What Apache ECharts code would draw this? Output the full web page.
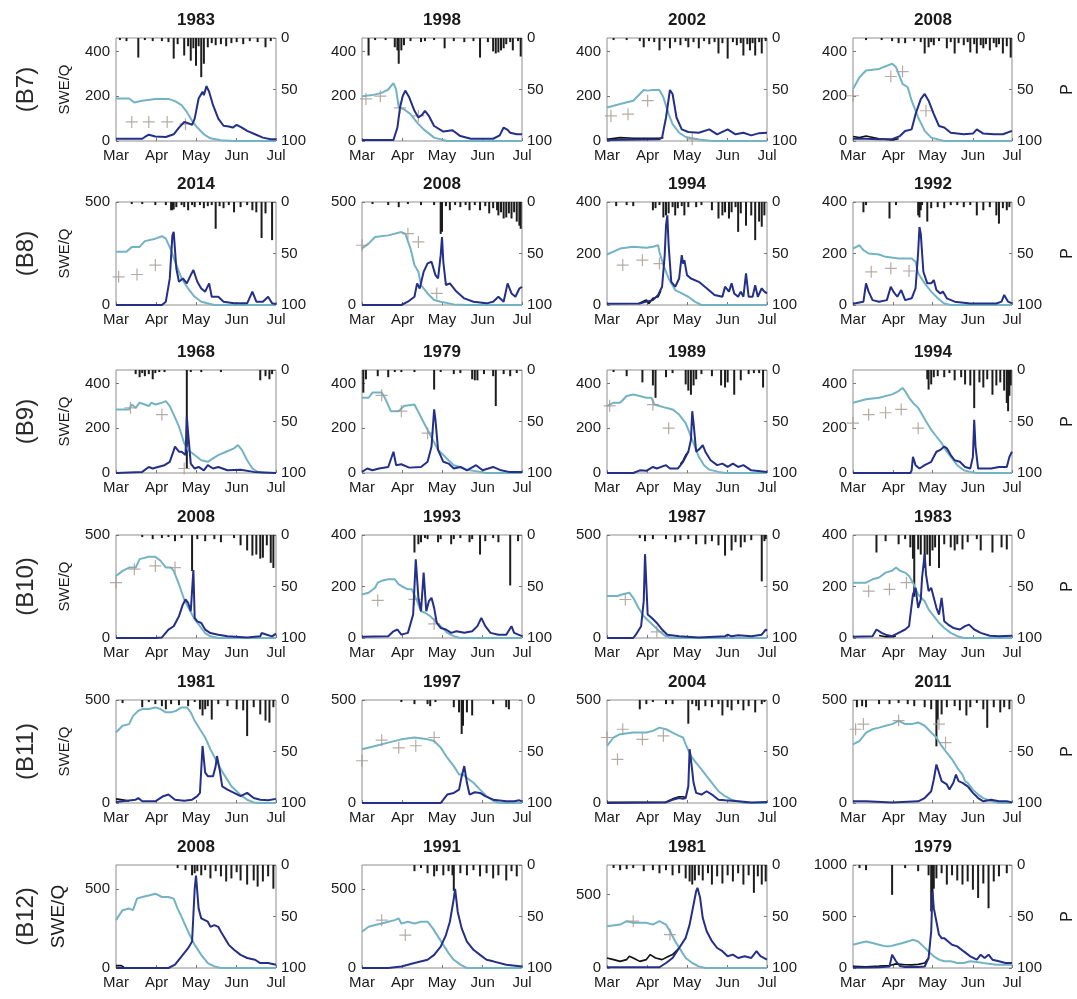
<!DOCTYPE html>
<html>
<head>
<meta charset="utf-8">
<script src="https://cdn.jsdelivr.net/npm/echarts@6/dist/echarts.min.js"></script>
<style>
  html, body { margin: 0; padding: 0; background: #fff; }
  #chart { width: 1077px; height: 999px; }
</style>
</head>
<body>
<div id="chart"></div>
<script>
// Season axis: day counted from 1 March; ticks at the first day of each month
const monthDays = [0, 31, 61, 92, 122];
const monthNames = ['Mar', 'Apr', 'May', 'Jun', 'Jul'];
const rowNames = ['(B7)', '(B8)', '(B9)', '(B10)', '(B11)', '(B12)'];
const panelYears = [
  ['1983', '1998', '2002', '2008'],
  ['2014', '2008', '1994', '1992'],
  ['1968', '1979', '1989', '1994'],
  ['2008', '1993', '1987', '1983'],
  ['1981', '1997', '2004', '2011'],
  ['2008', '1991', '1981', '1979']
];
// SWE/Q axis upper limits and tick labels per panel
const leftMax = [
  [460, 460, 460, 460],
  [500, 500, 400, 400],
  [460, 460, 460, 460],
  [500, 400, 500, 400],
  [500, 500, 500, 500],
  [650, 650, 700, 1000]
];
const leftTicks = [
  [[0, 200, 400], [0, 200, 400], [0, 200, 400], [0, 200, 400]],
  [[0, 500], [0, 500], [0, 200, 400], [0, 200, 400]],
  [[0, 200, 400], [0, 200, 400], [0, 200, 400], [0, 200, 400]],
  [[0, 500], [0, 200, 400], [0, 500], [0, 200, 400]],
  [[0, 500], [0, 500], [0, 500], [0, 500]],
  [[0, 500], [0, 500], [0, 500], [0, 500, 1000]]
];
const pTicks = [0, 50, 100];

// ---- B7 ----
const b7_1983_swe = [[0,190],[10,190],[14,172],[20,180],[30,188],[40,188],[45,178],[50,160],[54,130],[58,90],[62,60],[67,30],[72,12],[80,3],[90,0],[122,0]];
const b7_1983_q = [[0,10],[20,10],[22,18],[25,28],[30,20],[38,18],[44,30],[48,60],[52,85],[55,80],[58,72],[60,100],[63,190],[66,220],[67,205],[69,245],[71,220],[74,160],[78,100],[82,68],[86,65],[89,60],[92,72],[96,60],[100,45],[106,30],[112,15],[118,8],[122,8]];
const b7_1983_sim = [];
const b7_1983_obs = [[12,85],[25,85],[39,85],[53,75]];
const b7_1983_p = [[3,2],[8,3],[17,19],[22,2],[28,3],[35,3],[40,4],[44,20],[47,6],[52,17],[55,8],[57,22],[59,10],[61,27],[63,8],[65,38],[67,25],[70,9],[73,5],[76,7],[80,6],[84,8],[88,5],[92,4],[97,6],[102,3],[108,4],[114,9],[118,3]];

const b7_1998_swe = [[0,200],[8,205],[15,215],[20,230],[24,258],[26,230],[28,150],[32,142],[37,120],[42,82],[47,52],[55,15],[65,0],[122,0]];
const b7_1998_q = [[0,5],[24,5],[27,60],[29,150],[31,200],[33,225],[36,195],[40,135],[43,105],[46,118],[48,135],[51,112],[55,67],[62,42],[69,48],[75,22],[83,10],[100,10],[105,25],[108,60],[111,50],[113,37],[118,30],[122,30]];
const b7_1998_sim = [];
const b7_1998_obs = [[3,188],[14,200],[29,148],[43,112]];
const b7_1998_p = [[5,17],[10,2],[18,2],[25,9],[27,12],[28,25],[30,12],[32,7],[37,3],[45,4],[48,3],[55,2],[63,10],[70,3],[78,4],[85,3],[90,19],[96,4],[100,13],[102,15],[104,14],[106,12],[108,10],[110,6],[113,4],[115,12],[119,3],[121,18]];

const b7_2002_swe = [[0,150],[10,165],[20,180],[28,228],[31,225],[35,228],[40,228],[43,195],[47,120],[50,75],[55,37],[60,18],[70,7],[80,0],[122,0]];
const b7_2002_q = [[0,5],[40,8],[42,15],[45,105],[48,228],[50,210],[53,105],[57,52],[62,40],[70,37],[78,52],[84,30],[92,52],[98,30],[104,37],[110,25],[116,35],[122,37]];
const b7_2002_sim = [[0,8],[10,15],[20,12],[30,12],[40,12],[43,15]];
const b7_2002_obs = [[3,112],[16,120],[31,180],[65,8]];
const b7_2002_p = [[5,2],[15,2],[25,3],[28,9],[32,3],[36,4],[40,12],[44,3],[48,10],[52,4],[56,7],[60,3],[62,9],[66,4],[70,10],[74,3],[78,6],[82,4],[85,15],[88,5],[92,20],[96,4],[99,7],[102,5],[104,17],[107,6],[109,12],[111,5],[113,17],[116,4],[118,15],[121,3]];

const b7_2008_swe = [[0,232],[5,285],[10,315],[20,322],[30,345],[33,330],[38,255],[42,240],[45,180],[50,105],[55,45],[60,15],[70,0],[122,0]];
const b7_2008_q = [[0,10],[10,10],[20,8],[30,8],[36,22],[40,45],[45,52],[48,120],[52,187],[55,210],[58,180],[62,120],[66,67],[70,60],[75,37],[85,30],[92,33],[95,52],[100,33],[108,30],[115,30],[122,45]];
const b7_2008_sim = [[0,20],[5,15],[10,22],[20,10],[30,5],[35,10]];
const b7_2008_obs = [[0,202],[29,288],[38,310],[56,135]];
const b7_2008_p = [[10,2],[22,2],[30,3],[35,5],[40,5],[47,3],[52,4],[55,15],[58,9],[60,4],[62,7],[66,3],[72,10],[75,4],[78,15],[81,5],[85,7],[88,4],[90,14],[93,6],[95,15],[98,7],[100,10],[102,6],[105,12],[108,5],[110,9],[112,6],[115,15],[118,8],[121,19]];

// ---- B8 ----
const b8_2014_swe = [[0,258],[8,258],[12,282],[18,282],[22,310],[30,322],[35,334],[38,322],[42,266],[45,210],[50,129],[55,80],[60,40],[65,16],[75,0],[122,0]];
const b8_2014_q = [[0,0],[35,0],[38,16],[41,129],[43,338],[44,355],[46,177],[48,113],[51,129],[54,105],[57,145],[59,170],[62,113],[65,80],[68,65],[71,105],[73,40],[78,40],[82,16],[90,8],[100,8],[104,65],[107,16],[112,16],[116,40],[119,8],[122,5]];
const b8_2014_sim = [];
const b8_2014_obs = [[2,137],[16,148],[30,194]];
const b8_2014_p = [[12,2],[20,2],[30,3],[38,3],[42,8],[43,8],[44,7],[46,5],[50,3],[52,5],[55,8],[58,3],[60,5],[64,3],[67,6],[70,4],[73,3],[76,26],[79,4],[82,6],[86,3],[90,10],[95,5],[100,3],[104,8],[107,10],[111,35],[114,11],[119,37]];

const b8_2008_swe = [[0,274],[5,298],[10,330],[20,338],[30,354],[33,346],[37,274],[40,194],[43,161],[45,97],[50,56],[55,24],[60,16],[70,3],[80,0],[122,0]];
const b8_2008_q = [[0,0],[30,0],[35,16],[40,40],[42,105],[44,80],[47,161],[50,202],[53,210],[56,145],[58,129],[60,242],[61,330],[62,210],[64,97],[67,105],[72,65],[78,32],[85,16],[95,8],[100,16],[104,40],[108,16],[111,105],[114,56],[117,40],[120,80],[122,88]];
const b8_2008_sim = [];
const b8_2008_obs = [[0,290],[35,346],[43,306],[57,56]];
const b8_2008_p = [[8,2],[20,3],[28,5],[35,2],[45,3],[55,3],[60,31],[61,29],[64,4],[67,8],[71,3],[75,5],[79,3],[82,8],[86,3],[90,8],[94,4],[97,11],[100,6],[103,8],[104,13],[106,10],[108,16],[110,15],[112,11],[114,16],[116,10],[118,19],[120,23],[121,26]];

const b8_1994_swe = [[0,196],[10,219],[20,226],[30,222],[35,226],[39,232],[40,206],[43,155],[47,103],[52,58],[57,45],[62,32],[67,13],[72,0],[122,0]];
const b8_1994_q = [[0,5],[25,6],[30,13],[35,19],[39,39],[42,71],[44,194],[45,310],[46,348],[47,232],[49,90],[52,71],[55,103],[57,194],[58,161],[59,174],[61,116],[64,103],[70,90],[76,65],[82,39],[88,32],[90,71],[93,52],[95,84],[97,45],[100,32],[102,52],[104,32],[106,123],[108,32],[111,32],[113,77],[115,32],[118,65],[120,52],[122,45]];
const b8_1994_sim = [[24,5],[27,13],[30,19],[32,6],[35,26],[39,32],[41,55]];
const b8_1994_obs = [[12,155],[27,174],[40,161]];
const b8_1994_p = [[7,4],[15,3],[20,4],[35,8],[37,6],[40,3],[43,15],[45,13],[47,11],[50,5],[52,13],[54,6],[57,4],[59,13],[62,5],[68,5],[72,3],[80,8],[85,16],[88,13],[90,10],[93,16],[95,10],[98,5],[100,29],[102,11],[106,23],[110,13],[113,37],[116,19],[118,24],[120,13]];

const b8_1992_swe = [[0,219],[5,232],[8,213],[12,200],[20,196],[25,187],[35,181],[45,181],[48,168],[50,123],[55,84],[60,52],[65,26],[70,6],[75,0],[122,0]];
const b8_1992_q = [[0,5],[8,13],[10,84],[12,52],[15,19],[20,13],[26,19],[29,71],[31,52],[34,32],[37,58],[40,19],[45,26],[48,65],[50,206],[51,303],[52,277],[54,129],[57,84],[60,84],[62,97],[64,58],[67,45],[69,52],[72,26],[78,13],[90,6],[100,6],[110,6],[114,13],[116,39],[119,13],[122,6]];
const b8_1992_sim = [];
const b8_1992_obs = [[14,129],[29,142],[43,132]];
const b8_1992_p = [[8,10],[10,3],[28,16],[33,3],[50,13],[51,15],[52,8],[53,3],[57,19],[60,6],[65,5],[70,6],[75,3],[80,3],[85,5],[90,3],[95,13],[100,8],[105,5],[110,13],[112,21],[115,6],[118,8],[120,5]];

// ---- B9 ----
const b9_1968_swe = [[0,284],[10,284],[12,306],[15,291],[18,314],[22,306],[25,299],[27,314],[30,306],[35,314],[38,321],[41,299],[44,261],[48,208],[52,133],[55,103],[60,80],[65,57],[70,50],[74,65],[78,80],[84,95],[90,110],[93,125],[96,103],[100,57],[104,20],[108,5],[112,0],[122,0]];
const b9_1968_q = [[0,0],[20,5],[25,27],[28,20],[32,27],[37,35],[41,50],[45,118],[48,95],[50,95],[53,80],[54,253],[55,178],[57,42],[60,20],[63,27],[67,12],[70,35],[74,20],[78,27],[85,12],[95,15],[105,5],[122,0]];
const b9_1968_sim = [];
const b9_1968_obs = [[11,291],[35,261],[52,20]];
const b9_1968_p = [[15,4],[18,7],[20,3],[22,6],[25,4],[28,9],[30,3],[33,2],[37,2],[54,96],[57,2],[65,2],[80,2],[110,10],[114,6],[117,9],[119,4]];

const b9_1979_swe = [[0,336],[5,336],[8,359],[15,359],[18,329],[22,276],[28,276],[32,299],[40,306],[42,284],[46,238],[50,193],[54,148],[58,103],[62,80],[66,57],[70,35],[75,27],[80,15],[90,5],[95,0],[122,0]];
const b9_1979_q = [[0,5],[4,20],[8,12],[13,20],[20,27],[24,95],[26,35],[30,39],[36,24],[45,27],[50,50],[53,118],[55,284],[56,238],[58,103],[62,50],[66,42],[70,20],[75,27],[80,12],[87,35],[92,12],[100,27],[106,12],[112,5],[122,5]];
const b9_1979_sim = [];
const b9_1979_obs = [[15,347],[30,276],[50,178]];
const b9_1979_p = [[1,22],[3,9],[12,6],[20,7],[25,2],[30,2],[40,2],[55,19],[60,2],[70,4],[75,3],[84,9],[86,10],[88,10],[93,4],[100,6],[102,35],[108,4],[113,6],[118,3]];

const b9_1989_swe = [[0,299],[5,314],[10,314],[15,344],[20,351],[25,344],[30,336],[34,336],[36,306],[40,299],[45,291],[50,284],[55,261],[60,223],[64,163],[67,118],[70,72],[74,35],[78,15],[85,5],[90,0],[122,0]];
const b9_1989_q = [[0,0],[20,0],[25,12],[30,10],[35,27],[38,20],[45,35],[48,20],[54,20],[58,50],[62,95],[64,148],[65,276],[66,223],[68,95],[71,110],[73,125],[75,95],[79,57],[84,35],[88,42],[92,27],[96,42],[100,27],[104,35],[110,12],[122,5]];
const b9_1989_sim = [[56,40],[58,55],[60,80],[62,95]];
const b9_1989_obs = [[2,300],[35,305],[47,200]];
const b9_1989_p = [[5,2],[15,6],[27,12],[35,15],[37,27],[45,7],[50,3],[60,14],[62,20],[64,24],[66,15],[68,9],[72,4],[80,6],[87,15],[90,17],[92,12],[97,24],[102,10],[108,4],[112,3],[116,3],[119,17]];

const b9_1994_swe = [[0,314],[10,329],[20,336],[30,351],[35,366],[38,380],[40,366],[43,336],[46,314],[50,291],[53,261],[56,231],[60,193],[64,163],[68,133],[72,95],[76,65],[80,35],[85,12],[90,5],[95,0],[122,0]];
const b9_1994_q = [[0,0],[44,0],[45,12],[46,72],[48,35],[51,20],[55,35],[60,50],[64,95],[67,103],[70,118],[72,110],[75,80],[78,57],[82,50],[86,27],[90,20],[92,72],[93,238],[94,118],[96,20],[100,20],[106,20],[112,27],[118,27],[120,72],[122,95]];
const b9_1994_sim = [];
const b9_1994_obs = [[0,223],[12,261],[25,269],[37,284],[50,200]];
const b9_1994_p = [[57,9],[58,19],[60,14],[62,7],[65,6],[70,7],[74,3],[78,10],[83,7],[86,14],[90,15],[93,37],[97,12],[100,17],[103,9],[107,24],[110,15],[113,12],[116,20],[118,32],[119,40],[120,25],[121,15]];

// ---- B10 ----
const b10_2008_swe = [[0,301],[5,326],[10,342],[15,342],[18,383],[25,394],[30,394],[34,375],[38,342],[42,342],[44,326],[48,261],[52,187],[56,138],[60,90],[64,57],[68,24],[72,8],[78,0],[122,0]];
const b10_2008_q = [[0,0],[30,0],[35,3],[40,41],[44,57],[48,106],[51,163],[53,187],[55,171],[57,130],[58,122],[59,330],[60,98],[62,81],[65,73],[68,41],[72,24],[78,16],[85,8],[100,3],[110,8],[111,24],[115,16],[119,8],[122,21]];
const b10_2008_sim = [];
const b10_2008_obs = [[0,269],[14,334],[30,350],[45,342]];
const b10_2008_p = [[20,2],[28,4],[35,3],[40,2],[45,6],[50,3],[58,35],[62,4],[68,6],[75,4],[80,7],[90,3],[95,10],[100,15],[104,20],[107,19],[110,23],[112,22],[115,10],[118,27],[120,32]];

const b10_1993_swe = [[0,169],[5,176],[10,195],[12,215],[15,222],[20,228],[25,228],[28,208],[30,202],[35,189],[38,189],[42,143],[45,104],[48,98],[52,85],[56,65],[60,46],[65,20],[70,7],[75,0],[122,0]];
const b10_1993_q = [[0,5],[20,7],[24,26],[27,33],[30,13],[35,20],[39,91],[41,306],[43,156],[45,104],[47,254],[49,104],[51,143],[53,156],[55,117],[57,59],[60,39],[64,33],[68,20],[72,26],[78,20],[84,26],[88,46],[91,78],[94,46],[98,20],[104,13],[110,13],[114,46],[116,20],[122,7]];
const b10_1993_sim = [];
const b10_1993_obs = [[12,146],[40,150],[55,55]];
const b10_1993_p = [[40,17],[43,9],[45,7],[48,3],[50,4],[58,7],[60,4],[68,9],[70,4],[75,3],[82,7],[84,4],[90,19],[94,6],[100,3],[104,7],[113,49],[119,6]];

const b10_1987_swe = [[0,204],[8,204],[12,212],[17,220],[20,195],[24,147],[28,106],[32,81],[36,57],[40,33],[45,8],[50,0],[122,0]];
const b10_1987_q = [[0,0],[20,0],[22,16],[26,57],[28,179],[29,407],[30,261],[31,114],[34,98],[38,73],[42,41],[46,16],[55,8],[70,3],[90,8],[92,16],[95,8],[100,13],[110,8],[118,16],[121,41],[122,35]];
const b10_1987_sim = [];
const b10_1987_obs = [[14,187],[38,30]];
const b10_1987_p = [[25,3],[29,6],[35,4],[45,4],[52,7],[56,5],[62,4],[68,9],[75,9],[80,6],[85,10],[90,20],[95,15],[98,7],[102,12],[105,7],[110,5],[118,45],[120,6],[121,4]];

const b10_1983_swe = [[0,215],[10,215],[15,228],[20,235],[25,254],[30,261],[33,274],[36,261],[40,254],[43,241],[46,215],[50,169],[55,143],[58,111],[62,85],[66,59],[70,39],[75,20],[80,7],[85,0],[122,0]];
const b10_1983_q = [[0,5],[15,7],[18,33],[22,20],[25,13],[30,7],[35,20],[40,33],[43,46],[46,169],[48,195],[50,117],[52,150],[53,235],[55,326],[56,248],[58,182],[60,195],[62,156],[64,117],[66,91],[68,156],[70,65],[73,52],[77,39],[82,33],[86,46],[89,52],[93,33],[98,20],[105,9],[112,7],[122,9]];
const b10_1983_sim = [[20,10],[25,5],[30,5],[33,8]];
const b10_1983_obs = [[12,182],[28,189],[41,215]];
const b10_1983_p = [[18,17],[25,6],[35,9],[40,4],[44,12],[46,23],[47,60],[50,14],[52,19],[55,32],[57,19],[59,30],[61,15],[63,12],[66,32],[70,9],[75,12],[78,15],[80,9],[84,14],[88,7],[95,4],[98,15],[107,17],[114,12],[118,14]];

// ---- B11 ----
const b11_1981_swe = [[0,342],[5,375],[10,383],[13,423],[17,448],[20,456],[25,456],[30,464],[34,456],[38,440],[42,440],[46,448],[50,464],[54,464],[57,440],[60,399],[64,358],[68,318],[72,261],[76,212],[80,163],[84,122],[88,81],[92,57],[96,33],[100,16],[105,3],[110,0],[122,0]];
const b11_1981_q = [[0,5],[15,16],[17,24],[20,8],[30,8],[36,33],[40,41],[45,16],[52,11],[58,16],[62,33],[64,49],[66,277],[68,147],[70,130],[74,130],[76,179],[77,228],[79,163],[81,81],[85,65],[90,49],[95,33],[100,49],[105,24],[110,16],[116,13],[122,20]];
const b11_1981_sim = [[0,20],[5,15],[10,10]];
const b11_1981_obs = [];
const b11_1981_p = [[5,3],[20,7],[25,2],[30,4],[35,6],[38,9],[42,4],[48,5],[55,6],[60,2],[64,9],[66,15],[68,9],[70,6],[73,19],[78,4],[85,6],[92,9],[97,10],[100,35],[105,7],[110,14],[114,20],[117,22],[120,7]];

const b11_1997_swe = [[0,261],[10,277],[20,293],[30,309],[40,318],[50,309],[55,301],[60,269],[65,220],[70,179],[74,138],[77,138],[80,122],[85,98],[90,65],[95,33],[100,11],[105,0],[122,0]];
const b11_1997_q = [[0,0],[60,0],[62,16],[65,41],[70,49],[74,65],[76,130],[78,179],[80,98],[82,41],[86,52],[90,49],[94,33],[100,16],[110,8],[116,8],[120,13],[122,8]];
const b11_1997_sim = [];
const b11_1997_obs = [[0,205],[15,305],[28,268],[41,278],[55,318]];
const b11_1997_p = [[30,2],[40,4],[50,4],[52,6],[56,2],[70,7],[74,12],[76,33],[77,25],[80,12],[84,15],[100,4],[110,7],[112,9]];

const b11_2004_swe = [[0,277],[5,318],[10,334],[20,342],[30,342],[35,350],[40,366],[45,358],[50,342],[55,326],[58,318],[60,285],[64,228],[68,195],[72,163],[76,130],[80,98],[85,57],[90,33],[95,16],[100,8],[105,0],[122,0]];
const b11_2004_q = [[0,0],[45,3],[50,16],[55,24],[58,20],[60,24],[62,81],[63,261],[64,212],[66,98],[68,49],[72,41],[76,57],[80,41],[85,16],[90,13],[100,8],[110,3],[122,5]];
const b11_2004_sim = [[0,3],[45,5],[50,20],[55,30],[58,30],[60,25]];
const b11_2004_obs = [[0,318],[8,212],[12,358],[27,309],[43,326]];
const b11_2004_p = [[25,9],[30,4],[35,2],[45,4],[50,4],[62,23],[65,4],[68,6],[70,10],[75,6],[80,7],[85,4],[88,15],[92,7],[95,10],[100,4],[104,10],[108,6],[113,12],[118,4],[120,2]];

const b11_2011_swe = [[0,285],[5,301],[10,342],[15,358],[20,366],[25,375],[30,383],[35,399],[40,383],[45,383],[50,391],[55,375],[60,342],[64,318],[68,277],[72,244],[76,212],[80,171],[84,138],[86,106],[88,98],[92,65],[96,41],[100,24],[105,11],[110,3],[115,0],[122,0]];
const b11_2011_q = [[0,8],[10,8],[30,3],[50,8],[55,24],[60,57],[62,114],[64,187],[66,147],[68,106],[72,90],[74,65],[77,98],[79,138],[81,106],[84,98],[88,81],[92,49],[96,24],[100,8],[106,16],[112,8],[118,8],[122,3]];
const b11_2011_sim = [];
const b11_2011_obs = [[2,358],[8,383],[35,400],[66,383],[71,293]];
const b11_2011_p = [[3,7],[7,6],[10,7],[20,4],[28,4],[35,3],[42,4],[47,6],[55,7],[60,9],[64,45],[65,19],[68,14],[72,7],[78,6],[82,10],[87,15],[90,7],[95,3],[100,9],[103,27],[108,7],[113,12],[116,7],[120,9]];

// ---- B12 ----
const b12_2008_swe = [[0,302],[5,365],[10,375],[13,365],[16,438],[20,448],[25,458],[30,469],[35,448],[40,448],[44,438],[47,375],[50,323],[55,229],[60,146],[65,83],[70,31],[75,10],[80,0],[122,0]];
const b12_2008_q = [[0,0],[40,0],[45,21],[50,73],[55,125],[58,167],[60,500],[61,583],[63,375],[65,313],[70,292],[72,260],[75,271],[78,260],[80,229],[83,188],[86,146],[90,115],[95,83],[100,63],[106,52],[110,31],[116,31],[122,21]];
const b12_2008_sim = [[0,15],[4,15],[6,5]];
const b12_2008_obs = [];
const b12_2008_p = [[47,3],[53,5],[58,10],[60,8],[62,6],[65,10],[68,5],[72,13],[76,6],[80,11],[84,16],[88,13],[92,7],[95,15],[100,19],[105,15],[108,21],[112,16],[116,11],[120,23]];

const b12_1991_swe = [[0,229],[5,260],[10,271],[15,281],[20,292],[25,302],[28,313],[30,281],[35,292],[40,281],[45,292],[50,292],[54,250],[58,198],[62,146],[66,94],[70,52],[75,21],[80,0],[122,0]];
const b12_1991_q = [[0,0],[20,0],[30,10],[35,21],[40,31],[50,52],[55,83],[60,135],[64,208],[67,292],[70,438],[71,500],[73,354],[76,250],[80,167],[85,115],[90,83],[95,52],[100,42],[110,21],[122,10]];
const b12_1991_sim = [];
const b12_1991_obs = [[15,302],[33,208]];
const b12_1991_p = [[40,6],[45,3],[50,8],[55,11],[57,6],[62,10],[66,6],[69,10],[70,25],[75,8],[80,10],[85,5],[90,11],[95,8],[100,13],[104,10],[110,15],[114,6],[118,11]];

const b12_1981_swe = [[0,284],[10,295],[15,318],[20,307],[30,307],[35,295],[40,318],[45,295],[48,250],[52,182],[56,125],[60,68],[65,34],[70,11],[75,0],[122,0]];
const b12_1981_q = [[0,5],[40,5],[45,34],[50,68],[55,136],[60,205],[63,295],[66,432],[68,523],[69,545],[70,534],[71,477],[73,341],[76,250],[80,182],[84,136],[88,114],[92,80],[96,91],[100,68],[105,80],[110,68],[114,114],[117,80],[122,57]];
const b12_1981_sim = [[0,68],[5,57],[10,45],[15,57],[17,80],[20,68],[25,45],[30,57],[33,91],[37,68],[42,57],[47,80],[50,91],[55,136]];
const b12_1981_obs = [[20,318],[48,227]];
const b12_1981_p = [[5,3],[10,5],[15,4],[20,3],[28,6],[35,5],[40,8],[45,5],[50,10],[55,8],[60,13],[63,16],[65,19],[67,15],[70,10],[73,15],[77,8],[80,19],[84,11],[88,18],[92,10],[96,16],[100,8],[104,19],[108,10],[112,27],[115,11],[118,19],[121,16]];

const b12_1979_swe = [[0,226],[5,242],[10,258],[15,242],[20,226],[25,210],[28,210],[33,226],[38,242],[42,258],[46,274],[50,258],[54,210],[58,161],[62,113],[66,81],[70,65],[75,65],[80,48],[85,48],[90,65],[95,58],[100,48],[110,32],[122,32]];
const b12_1979_q = [[0,5],[10,5],[20,8],[28,15],[30,129],[31,145],[33,65],[36,20],[40,10],[50,10],[55,15],[58,97],[60,355],[61,742],[62,581],[64,452],[66,323],[68,290],[70,290],[73,258],[76,226],[80,210],[85,161],[90,113],[95,81],[98,129],[101,97],[104,129],[107,81],[112,65],[117,48],[122,48]];
const b12_1979_sim = [[0,16],[10,12],[20,18],[28,25],[33,40],[40,32],[45,30],[50,35],[55,48],[58,97]];
const b12_1979_obs = [];
const b12_1979_p = [[5,3],[10,5],[30,29],[40,3],[50,6],[58,10],[60,45],[61,32],[62,23],[64,13],[68,8],[72,19],[76,10],[80,15],[84,19],[88,16],[92,24],[96,32],[100,18],[104,42],[108,16],[112,11],[118,8]];

// Panel table, row by row (basin B7..B12), four years each
const panelSeries = [
  [[b7_1983_swe, b7_1983_q, b7_1983_sim, b7_1983_obs, b7_1983_p],
   [b7_1998_swe, b7_1998_q, b7_1998_sim, b7_1998_obs, b7_1998_p],
   [b7_2002_swe, b7_2002_q, b7_2002_sim, b7_2002_obs, b7_2002_p],
   [b7_2008_swe, b7_2008_q, b7_2008_sim, b7_2008_obs, b7_2008_p]],
  [[b8_2014_swe, b8_2014_q, b8_2014_sim, b8_2014_obs, b8_2014_p],
   [b8_2008_swe, b8_2008_q, b8_2008_sim, b8_2008_obs, b8_2008_p],
   [b8_1994_swe, b8_1994_q, b8_1994_sim, b8_1994_obs, b8_1994_p],
   [b8_1992_swe, b8_1992_q, b8_1992_sim, b8_1992_obs, b8_1992_p]],
  [[b9_1968_swe, b9_1968_q, b9_1968_sim, b9_1968_obs, b9_1968_p],
   [b9_1979_swe, b9_1979_q, b9_1979_sim, b9_1979_obs, b9_1979_p],
   [b9_1989_swe, b9_1989_q, b9_1989_sim, b9_1989_obs, b9_1989_p],
   [b9_1994_swe, b9_1994_q, b9_1994_sim, b9_1994_obs, b9_1994_p]],
  [[b10_2008_swe, b10_2008_q, b10_2008_sim, b10_2008_obs, b10_2008_p],
   [b10_1993_swe, b10_1993_q, b10_1993_sim, b10_1993_obs, b10_1993_p],
   [b10_1987_swe, b10_1987_q, b10_1987_sim, b10_1987_obs, b10_1987_p],
   [b10_1983_swe, b10_1983_q, b10_1983_sim, b10_1983_obs, b10_1983_p]],
  [[b11_1981_swe, b11_1981_q, b11_1981_sim, b11_1981_obs, b11_1981_p],
   [b11_1997_swe, b11_1997_q, b11_1997_sim, b11_1997_obs, b11_1997_p],
   [b11_2004_swe, b11_2004_q, b11_2004_sim, b11_2004_obs, b11_2004_p],
   [b11_2011_swe, b11_2011_q, b11_2011_sim, b11_2011_obs, b11_2011_p]],
  [[b12_2008_swe, b12_2008_q, b12_2008_sim, b12_2008_obs, b12_2008_p],
   [b12_1991_swe, b12_1991_q, b12_1991_sim, b12_1991_obs, b12_1991_p],
   [b12_1981_swe, b12_1981_q, b12_1981_sim, b12_1981_obs, b12_1981_p],
   [b12_1979_swe, b12_1979_q, b12_1979_sim, b12_1979_obs, b12_1979_p]]
];

// ---- layout and styling ----
const FONT = '"Liberation Sans", Arial, Helvetica, sans-serif';
const TEXT = '#1a1a1a';
const colLeft = [116, 362, 607, 853];
const rowTop = [38, 202, 370, 535, 700, 865];
const W = 160, H = 103;
const C_SWE = '#74b3c4', C_Q = '#243087', C_SIM = '#111111', C_OBS = '#a2968e', C_P = '#1c1c1c';
const PLUS = 'path://M4.5,0h1v4.5h4.5v1h-4.5v4.5h-1v-4.5h-4.5v-1h4.5z';

const grids = [], xAxes = [], yAxes = [], series = [], graphics = [];

for (let r = 0; r < 6; r++) {
  graphics.push({
    type: 'text', x: 26, y: rowTop[r] + H / 2, rotation: Math.PI / 2,
    style: { text: rowNames[r], font: '24px ' + FONT, fill: '#2a2a2a', align: 'center', verticalAlign: 'middle' }
  });
  for (let c = 0; c < 4; c++) {
    const k = r * 4 + c;
    const [swe, q, sim, obs, p] = panelSeries[r][c];
    grids.push({
      left: colLeft[c], top: rowTop[r], width: W, height: H,
      show: true, borderColor: '#8e8e8e', borderWidth: 1, backgroundColor: '#fff'
    });
    graphics.push({
      type: 'text', x: colLeft[c] + W / 2, y: rowTop[r] - 18,
      style: { text: panelYears[r][c], font: 'bold 17px ' + FONT, fill: TEXT, align: 'center', verticalAlign: 'middle' }
    });
    xAxes.push({
      type: 'value', gridIndex: k, min: 0, max: 122,
      axisLine: { show: false },
      axisTick: { show: true, inside: true, length: 3, customValues: monthDays, lineStyle: { color: '#777' } },
      axisLabel: {
        customValues: monthDays, margin: 7, fontSize: 15, color: TEXT, fontFamily: FONT,
        formatter: v => monthNames[monthDays.indexOf(v)]
      },
      splitLine: { show: false }
    });
    yAxes.push({
      type: 'value', gridIndex: k, position: 'left', min: 0, max: leftMax[r][c],
      axisLine: { show: false },
      axisTick: { show: true, inside: true, length: 3, customValues: leftTicks[r][c], lineStyle: { color: '#777' } },
      axisLabel: {
        customValues: leftTicks[r][c], margin: 6, fontSize: 15, color: TEXT, fontFamily: FONT,
        formatter: v => String(v)
      },
      splitLine: { show: false },
      name: c === 0 ? 'SWE/Q' : '', nameLocation: 'middle', nameRotate: 90, nameGap: r === 5 ? 48 : 44,
      nameTextStyle: { fontSize: r === 5 ? 19 : 15, color: TEXT, fontFamily: FONT }
    });
    yAxes.push({
      type: 'value', gridIndex: k, position: 'right', inverse: true, min: 0, max: 100,
      axisLine: { show: false },
      axisTick: { show: true, inside: true, length: 3, customValues: pTicks, lineStyle: { color: '#777' } },
      axisLabel: {
        customValues: pTicks, margin: 5, fontSize: 15, color: TEXT, fontFamily: FONT,
        formatter: v => String(v)
      },
      splitLine: { show: false },
      name: c === 3 ? 'P' : '', nameLocation: 'middle', nameRotate: 90, nameGap: 48,
      nameTextStyle: { fontSize: 16, color: TEXT, fontFamily: FONT }
    });
    // daily precipitation hanging from the top (inverted axis)
    series.push({
      type: 'bar', xAxisIndex: k, yAxisIndex: 2 * k + 1, data: p,
      barWidth: 2, itemStyle: { color: C_P }, silent: true, z: 2
    });
    // simulated snow water equivalent
    series.push({
      type: 'line', xAxisIndex: k, yAxisIndex: 2 * k, data: swe,
      showSymbol: false, symbol: 'none', lineStyle: { color: C_SWE, width: 2 }, silent: true, z: 3
    });
    // observed snow water equivalent
    series.push({
      type: 'scatter', xAxisIndex: k, yAxisIndex: 2 * k, data: obs,
      symbol: PLUS, symbolSize: 12, itemStyle: { color: C_OBS }, silent: true, z: 4
    });
    // simulated discharge
    series.push({
      type: 'line', xAxisIndex: k, yAxisIndex: 2 * k, data: sim,
      showSymbol: false, symbol: 'none', lineStyle: { color: C_SIM, width: 1.6 }, silent: true, z: 5
    });
    // observed discharge
    series.push({
      type: 'line', xAxisIndex: k, yAxisIndex: 2 * k, data: q,
      showSymbol: false, symbol: 'none', lineStyle: { color: C_Q, width: 2 }, silent: true, z: 6
    });
  }
}

const chart = echarts.init(document.getElementById('chart'), null, { renderer: 'canvas' });
chart.setOption({
  animation: false,
  backgroundColor: '#fff',
  textStyle: { fontFamily: FONT },
  grid: grids,
  xAxis: xAxes,
  yAxis: yAxes,
  series: series,
  graphic: graphics
});
</script>
</body>
</html>
